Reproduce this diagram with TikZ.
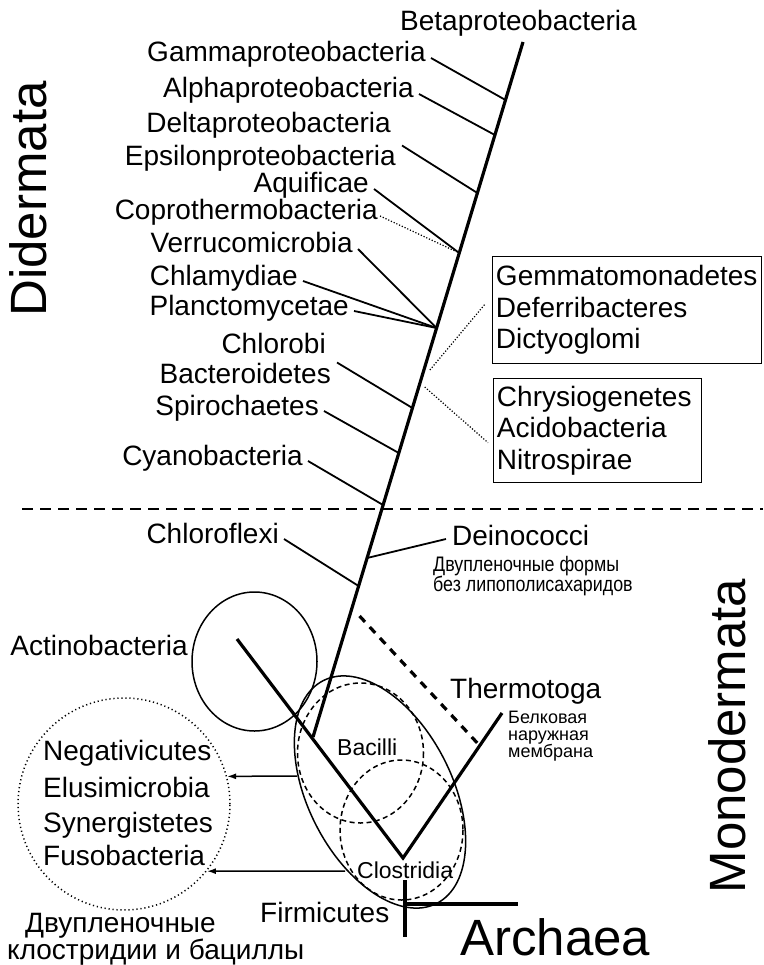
\documentclass[tikz,border=0pt]{standalone}
\usepackage{fontspec}
\setmainfont{Liberation Sans}
\newfontfamily\narrowsans{Liberation Sans}[FakeStretch=0.85]
\usetikzlibrary{arrows.meta,calc}

\tikzset{
	lbl/.style={inner sep=0pt, font=\fontsize{28}{31.5}\selectfont},
	biglbl/.style={inner sep=0pt, font=\fontsize{51}{56}\selectfont},
	smalllbl/.style={inner sep=0pt, font=\fontsize{23}{25}\selectfont},
	memblbl/.style={inner sep=0pt, align=left, font=\fontsize{18}{17}\selectfont},
	narrowlbl/.style={inner sep=0pt, align=left, font=\narrowsans\fontsize{21}{20}\selectfont},
	boxed/.style={draw, line width=1.3pt, align=left, inner ysep=0pt, font=\fontsize{28}{31.5}\selectfont},
	stem/.style={line width=3.2pt},
	branch/.style={line width=1.8pt},
	ring/.style={line width=1.5pt},
	dotlink/.style={line width=1.2pt, dash pattern=on 1.2pt off 1.8pt},
	cutline/.style={line width=2pt, dash pattern=on 11pt off 7pt},
	arr/.style={line width=1.5pt, -{Latex[length=9pt,width=6pt]}}
}

\begin{document}
\begin{tikzpicture}[x=1pt,y=-1pt]
	\useasboundingbox (0,0) rectangle (763,965);
	% trunk and the V of Firmicutes
	\coordinate (top) at (523,42);
	\coordinate (root) at (313,737);
	\coordinate (vtx) at (403,858);
	\coordinate (tend) at (502,713);
	\coordinate (aend) at (237,639);
	\foreach \n/\y in {jgam/100,jalp/135,jeps/193,jaqu/253,jpla/328,jgem/370,jchr/387,jbac/408,jspi/453,jcya/505,jdei/558,jchl/586,jthe/616} \coordinate (\n) at ({523-0.3022*(\y-42)},\y);
	\draw[stem] (top) -- (root);
	\draw[stem] (aend) -- (vtx) -- (tend);
	\draw[stem, dash pattern=on 8pt off 7pt] ([xshift=10pt]jthe) -- ($(vtx)!0.775!(tend)$);
	\draw[stem] (405,880) -- (405,937);
	\draw[stem] (405,904) -- (518,904);
	\draw[cutline] (22,509) -- (763,509);
	% circles
	\draw[ring] (254.5,661.5) ellipse [x radius=62.5, y radius=69.5];
	\draw[ring, rotate around={-63:(380,792)}] (380,792) ellipse [x radius=125, y radius=72];
	\draw[ring, dash pattern=on 5pt off 3.5pt] (360.5,753) ellipse [x radius=63, y radius=70];
	\draw[ring, dash pattern=on 5pt off 3.5pt] (401.5,830) ellipse [x radius=61.5, y radius=70];
	\node[draw, circle, line width=1.5pt, dash pattern=on 1.2pt off 2.8pt, minimum size=212pt, inner sep=0pt] (grp) at (124,804) {};
	% labels along the trunk
	\node[lbl, anchor=base west] (beta) at (400,31) {Betaproteobacteria};
	\foreach \t/\x/\y in {Gammaproteobacteria/426/62, Alphaproteobacteria/414/98, Deltaproteobacteria/391/133, Epsilonproteobacteria/396/166, Aquificae/369/193, Coprothermobacteria/378/220, Verrucomicrobia/353/253, Chlamydiae/298/285, Planctomycetae/349/315, Chlorobi/326/353, Bacteroidetes/331/383, Spirochaetes/319/415, Cyanobacteria/303/465, Chloroflexi/279/543} \node[lbl, anchor=base east] (\t) at (\x,\y) {\t};
	\foreach \t/\j in {Gammaproteobacteria/jgam, Alphaproteobacteria/jalp, Aquificae/jaqu, Verrucomicrobia/jpla, Chlamydiae/jpla, Planctomycetae/jpla, Spirochaetes/jspi, Cyanobacteria/jcya, Chloroflexi/jchl} \draw[branch] ([shift={(5,-4)}]\t.base east) -- (\j);
	\draw[branch] ([xshift=6pt]Epsilonproteobacteria.north east) -- (jeps);
	\draw[branch] ([xshift=6pt]Bacteroidetes.north east) -- (jbac);
	\draw[dotlink, shorten >=3pt] ([shift={(2,-4)}]Coprothermobacteria.base east) -- (jaqu);
	% boxes
	\node[boxed, anchor=north west, text width=262pt, minimum height=107pt] (box1) at (492,256) {Gemmatomonadetes\\Deferribacteres\\Dictyoglomi};
	\node[boxed, anchor=north west, text width=201pt, minimum height=104pt] (box2) at (493,378) {Chrysiogenetes\\Acidobacteria\\Nitrospirae};
	\draw[dotlink] ([xshift=6pt]jgem) -- ([shift={(-7,-6)}]box1.west);
	\draw[dotlink] ([xshift=6pt]jchr) -- ([shift={(-5,12)}]box2.west);
	% Monodermata side
	\node[lbl, anchor=base west] (dein) at (452,545) {Deinococci};
	\draw[branch] (jdei) -- ([shift={(-6,-6)}]dein.base west);
	\node[narrowlbl, anchor=north west] (dvuf) at (433,556) {Двупленочные формы\\без липополисахаридов};
	\node[lbl, anchor=base east] (actino) at (188,655) {Actinobacteria};
	\node[lbl, anchor=base west] (thermo) at (450,698) {Thermotoga};
	\node[memblbl, anchor=north west] (memb) at (508,711) {Белковая\\наружная\\мембрана};
	\node[smalllbl, anchor=base west] (bac) at (337,755) {Bacilli};
	\node[smalllbl, anchor=base west] (clo) at (357,878) {Clostridia};
	\node[lbl, anchor=base west] (firm) at (260,922) {Firmicutes};
	\foreach \t/\y in {Negativicutes/760, Elusimicrobia/797, Synergistetes/832, Fusobacteria/865} \node[lbl, anchor=base west] (\t) at (43,\y) {\t};
	\coordinate (fa) at (297,776);
	\coordinate (fb) at (345,871);
	\draw[arr] (fa) -- (grp.15.4);
	\draw[arr] (fb) -- (grp.-39.3);
	\node[lbl, anchor=base west] (dvu1) at (25,932) {Двупленочные};
	\node[lbl, anchor=base west] (dvu2) at (7,959) {клостридии и бациллы};
	% big names
	\node[biglbl, rotate=90, anchor=base] (dider) at (46,199) {Didermata};
	\node[biglbl, rotate=90, anchor=base] (monoder) at (745,736) {Monodermata};
	\node[biglbl, anchor=base west] (archaea) at (460,955) {Archaea};
\end{tikzpicture}
\end{document}
